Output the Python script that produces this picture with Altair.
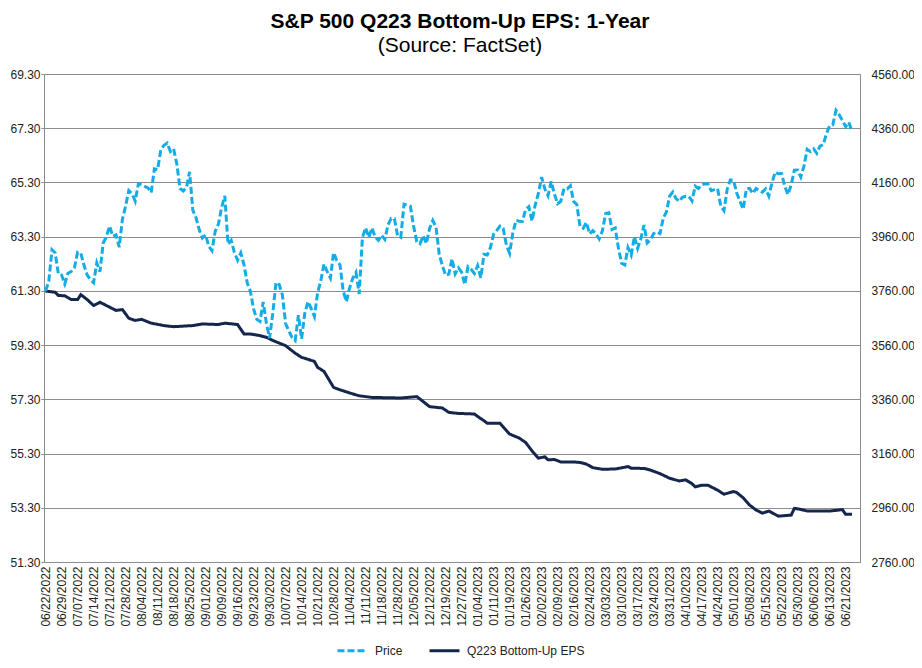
import altair as alt
import pandas as pd

FONT = "Liberation Sans"

tick_labels = [
    "06/22/2022", "06/29/2022", "07/07/2022", "07/14/2022", "07/21/2022", "07/28/2022",
    "08/04/2022", "08/11/2022", "08/18/2022", "08/25/2022", "09/01/2022", "09/09/2022",
    "09/16/2022", "09/23/2022", "09/30/2022", "10/07/2022", "10/14/2022", "10/21/2022",
    "10/28/2022", "11/04/2022", "11/11/2022", "11/18/2022", "11/28/2022", "12/05/2022",
    "12/12/2022", "12/19/2022", "12/27/2022", "01/04/2023", "01/11/2023", "01/19/2023",
    "01/26/2023", "02/02/2023", "02/09/2023", "02/16/2023", "02/24/2023", "03/03/2023",
    "03/10/2023", "03/17/2023", "03/24/2023", "03/31/2023", "04/10/2023", "04/17/2023",
    "04/24/2023", "05/01/2023", "05/08/2023", "05/15/2023", "05/22/2023", "05/30/2023",
    "06/06/2023", "06/13/2023", "06/21/2023",
]

# S&P 500 daily close, one value per trading day from 06/22/2022 to 06/23/2023
price = [
    3759.89, 3795.73, 3911.74, 3900.11, 3821.55, 3818.83, 3785.38,
    3825.33, 3831.39, 3845.08, 3902.62, 3899.38, 3854.43, 3818.80, 3801.78, 3790.38, 3863.16,
    3830.85, 3936.69, 3959.90, 3998.95, 3961.63, 3966.84, 3921.05, 4023.61, 4072.43, 4130.29,
    4118.63, 4091.19, 4155.17, 4151.94, 4145.19, 4140.06, 4122.47, 4210.24, 4207.27, 4280.15,
    4297.14, 4305.20, 4274.04, 4283.74, 4228.48, 4137.99, 4128.73, 4140.77, 4199.12, 4057.66,
    4030.61, 3986.16, 3955.00,
    3966.85, 3924.26, 3908.19, 3979.87, 4006.18, 4067.36, 4110.41, 3932.69, 3946.01, 3901.35,
    3873.33, 3899.89, 3855.93, 3789.93, 3757.99, 3693.23, 3655.04, 3647.29, 3719.04, 3640.47,
    3585.62,
    3678.43, 3790.93, 3783.28, 3744.52, 3639.66, 3612.39, 3588.84, 3577.03, 3669.91, 3583.07,
    3677.95, 3719.98, 3695.16, 3665.78, 3752.75, 3797.34, 3859.11, 3830.60, 3807.30, 3901.06,
    3871.98,
    3856.10, 3759.69, 3719.89, 3770.55, 3806.80, 3828.11, 3748.57, 3956.37, 3992.93, 3957.25,
    3991.73, 3958.79, 3946.56, 3965.34, 3949.94, 4003.58, 4027.26, 4026.12, 3963.94, 3957.63,
    4080.11,
    4076.57, 4071.70, 3998.84, 3941.26, 3933.92, 3963.51, 3934.38, 3990.56, 4019.65, 3995.32,
    3895.75, 3852.36, 3817.66, 3821.62, 3878.44, 3822.39, 3844.82, 3829.25, 3783.22, 3849.28,
    3839.50,
    3824.14, 3852.97, 3808.10, 3895.08, 3892.09, 3919.25, 3969.61, 3983.17, 3999.09, 3990.97,
    3928.86, 3898.85, 3972.61, 4019.81, 4016.95, 4016.22, 4060.43, 4070.56, 4017.77, 4076.60,
    4119.21, 4179.76, 4136.48, 4111.08, 4164.00, 4117.86, 4081.50, 4090.46, 4137.29, 4136.13,
    4147.60, 4090.41, 4079.09, 3997.34, 3991.05, 4012.32, 3970.04, 3982.24, 3970.15,
    3951.39, 3981.35, 4045.64, 4048.42, 3986.37, 3992.01, 3918.32, 3861.59, 3855.76, 3919.29,
    3891.93, 3960.28, 3916.64, 3951.57, 4002.87, 3936.97, 3948.72, 3970.99, 3977.53, 3971.27,
    4027.81, 4050.83, 4109.31,
    4124.51, 4100.60, 4090.38, 4105.02, 4109.11, 4108.94, 4091.95, 4146.22, 4137.64, 4151.32,
    4154.87, 4154.52, 4129.79, 4133.52, 4137.04, 4071.63, 4055.99, 4135.35, 4169.48,
    4167.87, 4119.58, 4090.75, 4061.22, 4136.25, 4138.12, 4119.17, 4137.64, 4130.62, 4124.08,
    4136.28, 4109.90, 4158.77, 4198.05, 4191.98, 4192.63, 4145.58, 4115.24, 4151.28, 4205.45,
    4205.52, 4179.83,
    4221.02, 4282.37, 4273.79, 4283.85, 4267.52, 4293.93, 4298.86, 4338.93, 4369.01, 4372.59,
    4425.84, 4409.59, 4388.71, 4365.69, 4381.89, 4348.33,
]

# Q223 bottom-up EPS, read at the trading days where the line changes slope
eps_day = [
    0, 3, 4, 6, 8, 10, 11, 13, 15, 17, 19, 22, 24, 26, 28, 30, 33, 37, 40, 46,
    49, 54, 56, 60, 62, 64, 67, 69, 71, 75, 78, 80, 84, 85, 87, 90, 92, 96, 98, 102,
    111, 116, 117, 120, 124, 126, 129, 134, 135, 137, 138, 142, 145, 148, 150, 152, 154, 156, 157, 159,
    161, 165, 167, 169, 171, 174, 178, 182, 183, 187, 189, 192, 195, 198, 200, 202, 203, 205, 207, 210,
    212, 215, 216, 218, 220, 222, 224, 226, 229, 233, 234, 236, 238, 245, 249, 250, 252,
]
eps_val = [
    61.29, 61.25, 61.13, 61.12, 60.98, 60.98, 61.16, 60.98, 60.76, 60.88, 60.76, 60.58, 60.61, 60.29, 60.21, 60.25, 60.11, 60.02, 59.98, 60.02,
    60.08, 60.06, 60.11, 60.06, 59.71, 59.71, 59.65, 59.59, 59.47, 59.28, 59.00, 58.85, 58.70, 58.48, 58.33, 57.74, 57.65, 57.50, 57.43, 57.37,
    57.35, 57.40, 57.31, 57.03, 56.98, 56.82, 56.78, 56.76, 56.67, 56.51, 56.42, 56.42, 56.02, 55.87, 55.71, 55.40, 55.13, 55.18, 55.07, 55.08,
    54.99, 54.99, 54.97, 54.91, 54.78, 54.72, 54.73, 54.82, 54.76, 54.75, 54.69, 54.56, 54.39, 54.29, 54.33, 54.19, 54.07, 54.13, 54.13, 53.95,
    53.80, 53.90, 53.86, 53.67, 53.40, 53.22, 53.10, 53.18, 52.99, 53.03, 53.28, 53.24, 53.18, 53.18, 53.23, 53.06, 53.06,
]

left_ticks = [51.3, 53.3, 55.3, 57.3, 59.3, 61.3, 63.3, 65.3, 67.3, 69.3]
right_ticks = [2760, 2960, 3160, 3360, 3560, 3760, 3960, 4160, 4360, 4560]
series_names = ["Price", "Q223 Bottom-Up EPS"]
series_colors = ["#14ACE6", "#15264D"]

price_df = pd.DataFrame({"i": list(range(len(price))), "value": price, "series": "Price"})
eps_df = pd.DataFrame({"i": eps_day, "value": eps_val, "series": "Q223 Bottom-Up EPS"})

label_array = "[" + ",".join("'" + s + "'" for s in tick_labels) + "]"
x_axis = alt.Axis(
    values=list(range(0, 5 * len(tick_labels), 5)),
    labelExpr=label_array + "[round(datum.value / 5)]",
    labelAngle=-90, ticks=False, grid=False, title=None,
    labelFont=FONT, labelFontSize=12, labelColor="#222222", labelPadding=4,
    domainColor="#8c8c8c", labelOverlap=False, labelFlush=False,
)
x_enc = alt.X("i:Q", scale=alt.Scale(domain=[-0.5, 254.5], nice=False, zero=False), axis=x_axis)

legend_cfg = alt.Legend(
    title=None, orient="none", legendX=292, legendY=560, direction="horizontal",
    symbolType="stroke", symbolSize=900, symbolStrokeWidth=3, labelFont=FONT,
    labelFontSize=12, labelColor="#222222", columnPadding=20, labelOffset=6, padding=0,
)
color_enc = alt.Color(
    "series:N",
    scale=alt.Scale(domain=series_names, range=series_colors),
    legend=legend_cfg,
)
dash_enc = alt.StrokeDash(
    "series:N",
    scale=alt.Scale(domain=series_names, range=[[7, 3], [1, 0]]),
    legend=legend_cfg,
)

eps_line = alt.Chart(eps_df).mark_line(strokeWidth=3).encode(
    x=x_enc,
    y=alt.Y(
        "value:Q",
        scale=alt.Scale(domain=[51.3, 69.3], nice=False, zero=False),
        axis=alt.Axis(
            orient="left", values=left_ticks, format=".2f", title=None,
            grid=True, gridColor="#8c8c8c", gridWidth=1,
            domainColor="#8c8c8c", tickColor="#8c8c8c", tickSize=3,
            labelFont=FONT, labelFontSize=12, labelColor="#222222", labelPadding=1,
        ),
    ),
    color=color_enc,
    strokeDash=dash_enc,
)

price_line = alt.Chart(price_df).mark_line(strokeWidth=3).encode(
    x=x_enc,
    y=alt.Y(
        "value:Q",
        scale=alt.Scale(domain=[2760, 4560], nice=False, zero=False),
        axis=alt.Axis(
            orient="right", values=right_ticks, format=".2f", title=None,
            grid=False, ticks=False, domainColor="#8c8c8c",
            labelFont=FONT, labelFontSize=12, labelColor="#222222", labelPadding=11,
        ),
    ),
    color=color_enc,
    strokeDash=dash_enc,
)

chart = (
    alt.layer(eps_line, price_line)
    .resolve_scale(y="independent")
    .properties(
        width=816,
        height=488,
        autosize=alt.AutoSizeParams(type="none"),
        padding={"left": 36, "top": 66, "right": 54, "bottom": 98},
        title=alt.TitleParams(
            text="S&P 500 Q223 Bottom-Up EPS: 1-Year",
            subtitle="(Source: FactSet)",
            font=FONT, fontSize=21, fontWeight="bold", color="black",
            subtitleFont=FONT, subtitleFontSize=21, subtitleColor="black",
            subtitlePadding=3, anchor="middle", dx=8, offset=12,
        ),
    )
    .configure_view(stroke=None)
    .configure(background="white")
)

chart.save("out.html", embed_options={"renderer": "svg", "actions": False})
